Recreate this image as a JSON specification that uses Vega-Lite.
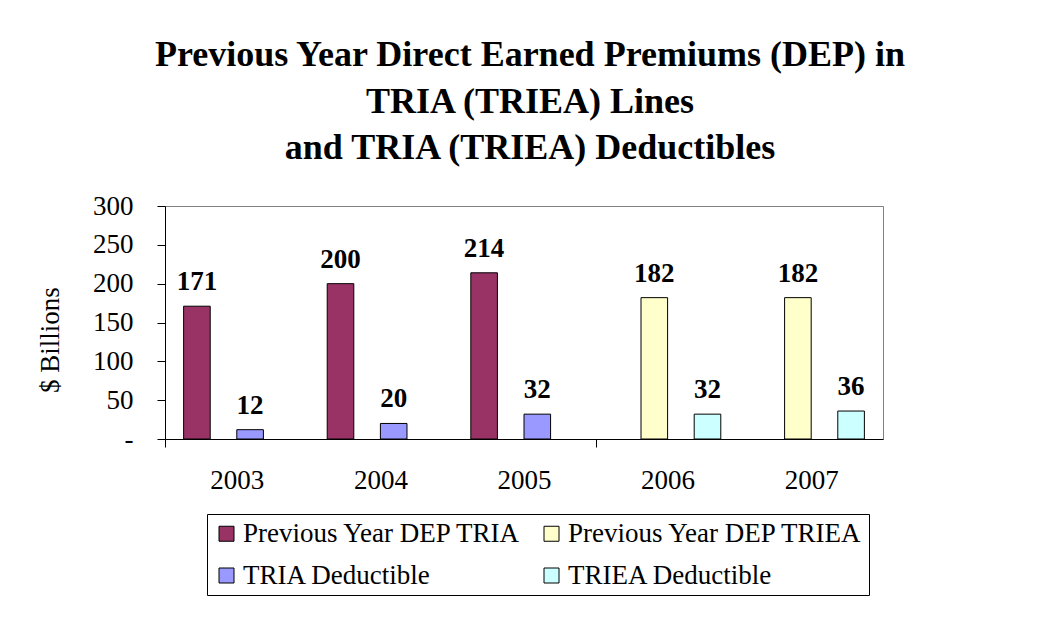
{
  "$schema": "https://vega.github.io/schema/vega-lite/v6.json",
  "autosize": {"type": "none"},
  "padding": {"left": 165, "top": 206, "right": 159, "bottom": 183},
  "width": 718,
  "height": 233,
  "background": "white",
  "title": {
    "text": ["Previous Year Direct Earned Premiums (DEP) in", "TRIA (TRIEA) Lines", "and TRIA (TRIEA) Deductibles"],
    "font": "Liberation Serif",
    "fontSize": 36,
    "fontWeight": "bold",
    "color": "black",
    "lineHeight": 46.5,
    "anchor": "middle",
    "dx": 6,
    "offset": 25
  },
  "data": {
    "values": [
      {"year": "2003", "series": "Previous Year DEP TRIA", "value": 171},
      {"year": "2003", "series": "TRIA Deductible", "value": 12},
      {"year": "2004", "series": "Previous Year DEP TRIA", "value": 200},
      {"year": "2004", "series": "TRIA Deductible", "value": 20},
      {"year": "2005", "series": "Previous Year DEP TRIA", "value": 214},
      {"year": "2005", "series": "TRIA Deductible", "value": 32},
      {"year": "2006", "series": "Previous Year DEP TRIEA", "value": 182},
      {"year": "2006", "series": "TRIEA Deductible", "value": 32},
      {"year": "2007", "series": "Previous Year DEP TRIEA", "value": 182},
      {"year": "2007", "series": "TRIEA Deductible", "value": 36}
    ]
  },
  "encoding": {
    "x": {
      "field": "year",
      "type": "nominal",
      "scale": {"paddingInner": 0, "paddingOuter": 0},
      "axis": {
        "title": null,
        "labelAngle": 0,
        "labelFont": "Liberation Serif",
        "labelFontSize": 27,
        "labelColor": "black",
        "labelPadding": 20,
        "labelOffset": 71.8,
        "domainColor": "black",
        "tickColor": "black",
        "tickSize": 8,
        "tickOffset": -71.8,
        "tickOpacity": {"condition": {"test": "datum.value === '2003' || datum.value === '2006'", "value": 1}, "value": 0}
      }
    },
    "xOffset": {
      "field": "series",
      "type": "nominal",
      "scale": {
        "domain": ["Previous Year DEP TRIA", "Previous Year DEP TRIEA", "TRIA Deductible", "TRIEA Deductible"],
        "paddingInner": 0,
        "paddingOuter": 0.7
      }
    },
    "y": {
      "field": "value",
      "type": "quantitative",
      "scale": {"domain": [0, 300], "nice": false},
      "axis": {
        "title": "$ Billions",
        "titleFont": "Liberation Serif",
        "titleFontSize": 27,
        "titleFontWeight": "normal",
        "titleColor": "black",
        "titlePadding": 28,
        "titleY": 133.5,
        "values": [0, 50, 100, 150, 200, 250, 300],
        "labelExpr": "datum.value === 0 ? '-' : datum.label",
        "labelFont": "Liberation Serif",
        "labelFontSize": 27,
        "labelColor": "black",
        "labelPadding": 24,
        "domainColor": "black",
        "tickColor": "black",
        "tickSize": 8,
        "grid": false
      }
    }
  },
  "layer": [
    {
      "mark": {"type": "bar", "stroke": "black", "strokeWidth": 1},
      "encoding": {
        "color": {
          "field": "series",
          "type": "nominal",
          "scale": {
            "domain": ["Previous Year DEP TRIA", "Previous Year DEP TRIEA", "TRIA Deductible", "TRIEA Deductible"],
            "range": ["#993366", "#FFFFCC", "#9999FF", "#CCFFFF"]
          },
          "legend": {
            "title": null,
            "orient": "none",
            "legendX": 42,
            "legendY": 308,
            "direction": "horizontal",
            "columns": 2,
            "columnPadding": 16,
            "rowPadding": 14,
            "padding": 6,
            "strokeColor": "black",
            "fillColor": "white",
            "symbolType": "square",
            "symbolSize": 225,
            "symbolStrokeColor": "black",
            "symbolStrokeWidth": 1,
            "symbolOpacity": 1,
            "labelFont": "Liberation Serif",
            "labelFontSize": 27,
            "labelColor": "black",
            "labelOffset": 3,
            "labelLimit": 400
          }
        }
      }
    },
    {
      "mark": {
        "type": "text",
        "font": "Liberation Serif",
        "fontSize": 27,
        "fontWeight": "bold",
        "color": "black",
        "align": "center",
        "baseline": "alphabetic",
        "dy": -16
      },
      "encoding": {
        "text": {"field": "value", "type": "quantitative"}
      }
    }
  ],
  "config": {
    "view": {"stroke": "#808080", "strokeWidth": 1}
  }
}
